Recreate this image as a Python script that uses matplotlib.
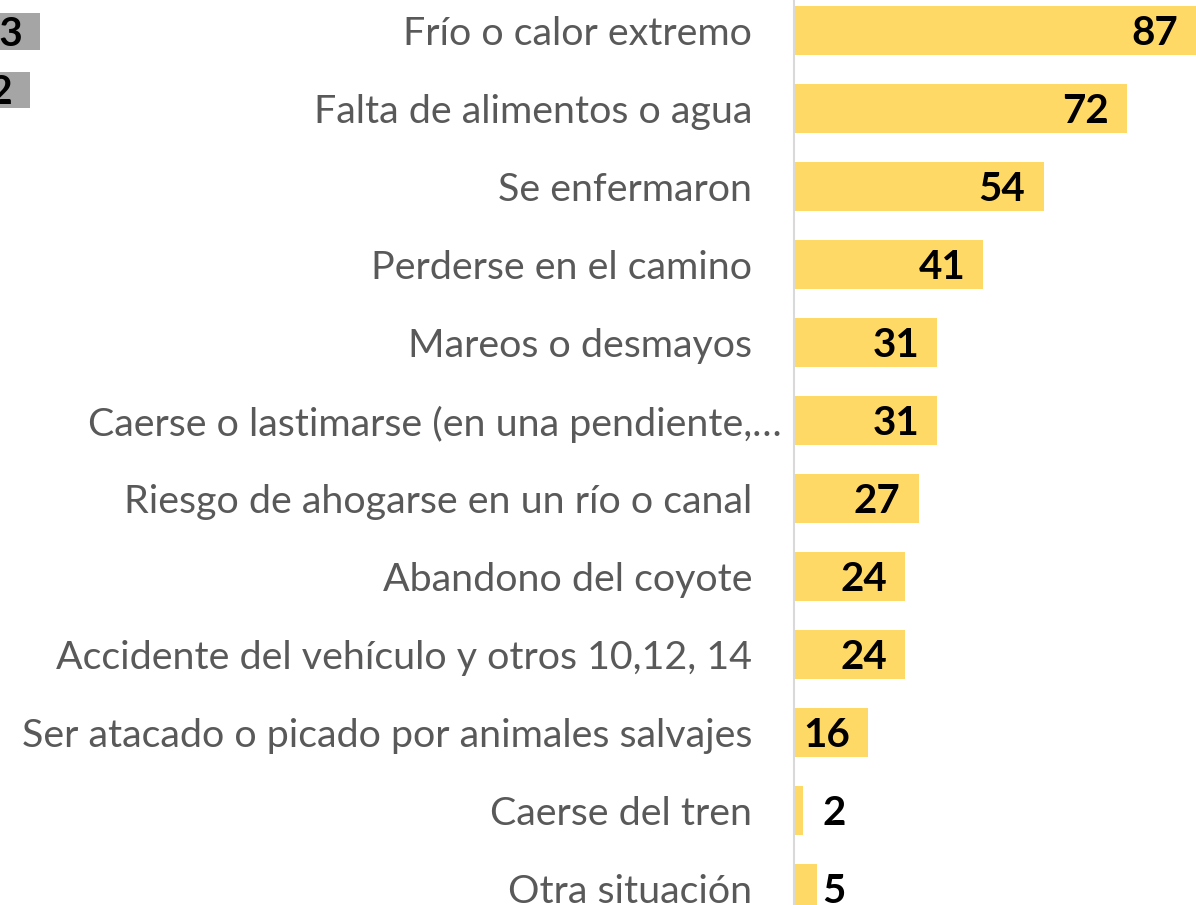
import matplotlib
matplotlib.use("Agg")
import matplotlib.pyplot as plt
import matplotlib.transforms as mtransforms

# ---- data ----
categories = [
    "Frío o calor extremo",
    "Falta de alimentos o agua",
    "Se enfermaron",
    "Perderse en el camino",
    "Mareos o desmayos",
    "Caerse o lastimarse (en una pendiente,…",
    "Riesgo de ahogarse en un río o canal",
    "Abandono del coyote",
    "Accidente del vehículo y otros 10,12, 14",
    "Ser atacado o picado por animales salvajes",
    "Caerse del tren",
    "Otra situación",
]
values = [87, 72, 54, 41, 31, 31, 27, 24, 24, 16, 2, 5]

# partially visible neighbouring chart (cropped at left edge)
left_values = [23, 22]

W, H = 1196, 905
fig = plt.figure(figsize=(W / 100, H / 100), dpi=100)
plt.rcParams['font.family'] = ['Lato', 'DejaVu Sans']

# ---- main chart ----
ax_left_px, ax_right_px = 794, 1196
ax_top_px, ax_bot_px = -8.5, 927.5
ax = fig.add_axes([ax_left_px / W, (H - ax_bot_px) / H,
                   (ax_right_px - ax_left_px) / W, (ax_bot_px - ax_top_px) / H])
y = list(range(len(categories)))
ax.barh(y, values, height=0.63, color="#FFD966", zorder=2)
ax.set_ylim(len(categories) - 0.5, -0.5)
ax.set_xlim(0, 87)
ax.set_yticks(y)
ax.set_yticklabels(categories, fontsize=28.4, color="#595959")
ax.tick_params(axis="y", length=0, pad=30)
ax.set_xticks([])
for s in ["top", "right", "bottom"]:
    ax.spines[s].set_visible(False)
ax.spines["left"].set_color("#D9D9D9")
ax.spines["left"].set_linewidth(1.5)
ax.spines["left"].set_zorder(3)

# the truncated label sits further right
lbl = ax.get_yticklabels()[5]
lbl.set_transform(lbl.get_transform() + mtransforms.ScaledTranslation(29 / 100, 0, fig.dpi_scale_trans))

for yi, v in zip(y, values):
    if v >= 10:
        ax.annotate(f"{v}", xy=(v, yi), xytext=(-13, -2), textcoords="offset points",
                    ha="right", va="center", fontsize=29, fontweight="bold", color="black")
    else:
        ax.annotate(f"{v}", xy=(8.6, yi), xytext=(0, -2), textcoords="offset points",
                    ha="center", va="center",
                    fontsize=29, fontweight="bold", color="black")

# ---- neighbouring chart, cropped ----
lx_left_px, lx_right_px = -190, 60
lt_px, lb_px = 2.25, 119.25
ax2 = fig.add_axes([lx_left_px / W, (H - lb_px) / H,
                    (lx_right_px - lx_left_px) / W, (lb_px - lt_px) / H])
ax2.barh([0, 1], left_values, height=0.63, color="#A5A5A5")
ax2.set_xlim(0, 25)
ax2.set_ylim(1.5, -0.5)
ax2.axis("off")
for yi, v in enumerate(left_values):
    ax2.annotate(f"{v}", xy=(v, yi), xytext=(-12, -2), textcoords="offset points",
                 ha="right", va="center", fontsize=29, fontweight="bold", color="black")

fig.savefig("out.png", dpi=100)
